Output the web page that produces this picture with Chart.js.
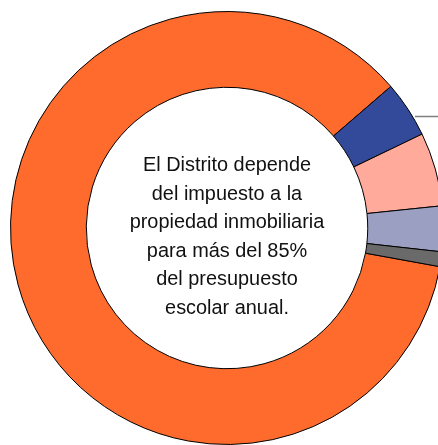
<!DOCTYPE html>
<html>
<head>
<meta charset="utf-8">
<script src="https://cdn.jsdelivr.net/npm/chart.js@4"></script>
<style>
  html, body { margin: 0; padding: 0; background: #fff; overflow: hidden; }
  #wrap { position: relative; width: 454px; height: 445px; }
  #center {
    position: absolute; left: 0; width: 454px; top: 150px;
    text-align: center; font-family: "Liberation Sans", Arial, sans-serif;
    font-size: 19.9px; line-height: 28.6px; color: #111;
  }
</style>
</head>
<body>
<div id="wrap">
  <canvas id="chartCanvas" width="454" height="445"></canvas>
  <div id="center">El Distrito depende<br>del impuesto a la<br>propiedad inmobiliaria<br>para más del 85%<br>del presupuesto<br>escolar anual.</div>
</div>
<script>
// Budget share by source
const labels = ["Impuesto a la propiedad", "Fuente 2", "Fuente 3", "Fuente 4", "Fuente 5"];
const values = [85.8, 4.2, 5.5, 3.4, 1.1];
const colors = ["#FF6B2D", "#334A9A", "#FFAA9B", "#9BA0C2", "#6A6A6A"];

// Leader lines for the small slices (labels fall outside the picture)
const leaders = {
    id: "leaders",
    afterDatasetsDraw(chart) {
        const c = chart.ctx;
        const arcs = chart.getDatasetMeta(0).data;
        c.save();
        c.strokeStyle = "#808080";
        c.lineWidth = 1.5;
        arcs.forEach((arc, i) => {
            if (i === 0) return;
            const a = arc.startAngle + (arc.endAngle - arc.startAngle) * 0.67;
            const r = arc.outerRadius + 2;
            const x = arc.x + Math.cos(a) * r;
            const y = arc.y + Math.sin(a) * r;
            c.beginPath();
            c.moveTo(x, y);
            c.lineTo(x + 60, y);
            c.stroke();
        });
        c.restore();
    }
};

new Chart(document.getElementById("chartCanvas").getContext("2d"), {
    type: "doughnut",
    data: {
        labels: labels,
        datasets: [{
            data: values,
            backgroundColor: colors,
            borderColor: "#000",
            borderWidth: 1
        }]
    },
    options: {
        responsive: false,
        animation: false,
        rotation: 100.3,
        cutout: "65%",
        layout: { padding: { top: 11, bottom: 0, left: 0, right: 0 } },
        plugins: {
            legend: { display: false },
            tooltip: { enabled: false }
        }
    },
    plugins: [leaders]
});
</script>
</body>
</html>
